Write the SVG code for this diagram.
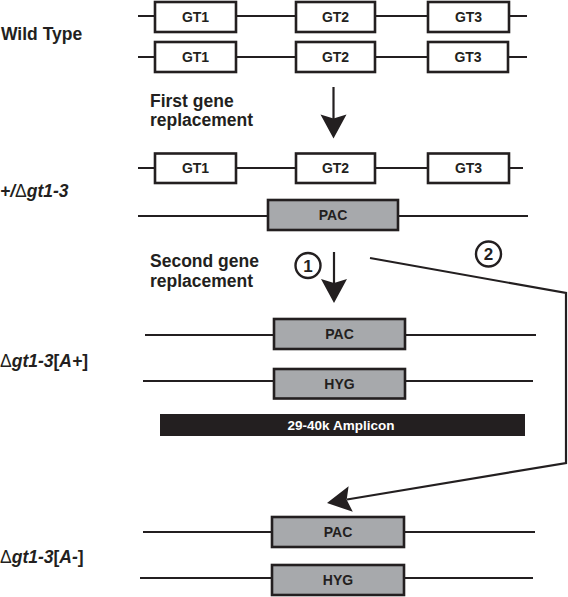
<svg xmlns="http://www.w3.org/2000/svg" width="568" height="597" viewBox="0 0 568 597">
<style>
.bg{fill:#fff}
.ln{stroke:#231f20;stroke-width:2.2;fill:none}
.wb{fill:#fff;stroke:#231f20;stroke-width:2.6}
.gb{fill:#a7a9ac;stroke:#231f20;stroke-width:2.6}
.bt{font-family:"Liberation Sans",Arial,sans-serif;font-weight:bold;font-size:14px;fill:#231f20;text-anchor:middle}
.lb{font-family:"Liberation Sans",Arial,sans-serif;font-weight:bold;font-size:17.5px;fill:#231f20}
.it{font-style:italic}
.dl{font-weight:normal;font-style:normal}
.ah{fill:#231f20}
.cc{fill:none;stroke:#231f20;stroke-width:2.4}
.ct{font-family:"Liberation Sans",Arial,sans-serif;font-weight:bold;font-size:17px;fill:#231f20;text-anchor:middle}
</style>
<rect class="bg" x="0" y="0" width="568" height="597"/>

<g id="labels">
<text class="lb" x="1" y="40">Wild Type</text>
<text class="lb" x="150" y="107">First gene</text>
<text class="lb" x="150" y="126">replacement</text>
<text class="lb it" x="0" y="197">+/<tspan class="dl">Δ</tspan>gt1-3</text>
<text class="lb" x="150" y="267">Second gene</text>
<text class="lb" x="150" y="287">replacement</text>
<text class="lb" x="0" y="367"><tspan class="dl">Δ</tspan><tspan class="it">gt1-3</tspan>[<tspan class="it">A+</tspan>]</text>
<text class="lb" x="0" y="563"><tspan class="dl">Δ</tspan><tspan class="it">gt1-3</tspan>[<tspan class="it">A-</tspan>]</text>
</g>

<g id="connectors">
<line class="ln" x1="333.5" y1="87" x2="333.5" y2="119"/>
<polygon class="ah" points="320.5,114.5 333.5,118.5 346.5,114.5 333.5,138.5"/>
<line class="ln" x1="334" y1="252" x2="334" y2="284"/>
<polygon class="ah" points="321,279 334,283 347,279 334,303"/>
<polyline class="ln" stroke-width="2.8" points="370,258 566,293 566,463 347,499.5"/>
<polygon class="ah" points="327,503 348.6,486.2 346.7,499.7 352.8,511.8"/>
</g>

<g id="markers">
<circle class="cc" cx="308" cy="265.5" r="12.5"/>
<text class="ct" x="308" y="271.5">1</text>
<circle class="cc" cx="488.5" cy="254" r="12.5"/>
<text class="ct" x="488.5" y="260">2</text>
</g>

<g id="wt1">
<line class="ln" x1="138" y1="16" x2="527" y2="16"/>
<g id="wt1-gt1"><rect class="wb" x="155" y="2" width="81" height="30"/><text class="bt" x="195.5" y="22">GT1</text></g>
<g id="wt1-gt2"><rect class="wb" x="296" y="2" width="79" height="30"/><text class="bt" x="335.5" y="22">GT2</text></g>
<g id="wt1-gt3"><rect class="wb" x="428" y="2" width="81" height="30"/><text class="bt" x="468.5" y="22">GT3</text></g>
</g>

<g id="wt2">
<line class="ln" x1="138" y1="57" x2="527" y2="57"/>
<g id="wt2-gt1"><rect class="wb" x="155" y="42" width="81" height="30"/><text class="bt" x="195.5" y="62">GT1</text></g>
<g id="wt2-gt2"><rect class="wb" x="296" y="42" width="79" height="30"/><text class="bt" x="335.5" y="62">GT2</text></g>
<g id="wt2-gt3"><rect class="wb" x="428" y="42" width="80" height="30"/><text class="bt" x="468" y="62">GT3</text></g>
</g>

<g id="het1">
<line class="ln" x1="138" y1="168" x2="523" y2="168"/>
<g id="het1-gt1"><rect class="wb" x="155" y="153.5" width="81" height="29.5"/><text class="bt" x="195.5" y="173">GT1</text></g>
<g id="het1-gt2"><rect class="wb" x="296" y="153.5" width="79" height="29.5"/><text class="bt" x="335.5" y="173">GT2</text></g>
<g id="het1-gt3"><rect class="wb" x="428" y="153.5" width="81" height="29.5"/><text class="bt" x="468.5" y="173">GT3</text></g>
</g>

<g id="het2">
<line class="ln" x1="138" y1="216" x2="528" y2="216"/>
<g id="het2-pac"><rect class="gb" x="268" y="200" width="130" height="30"/><text class="bt" x="333" y="220">PAC</text></g>
</g>

<g id="ap1">
<line class="ln" x1="145" y1="335" x2="536" y2="335"/>
<g id="ap1-pac"><rect class="gb" x="274" y="319" width="131" height="30"/><text class="bt" x="339.5" y="339">PAC</text></g>
</g>

<g id="ap2">
<line class="ln" x1="143" y1="381" x2="533" y2="381"/>
<g id="ap2-hyg"><rect class="gb" x="274" y="369" width="131" height="29.5"/><text class="bt" x="339.5" y="388.5">HYG</text></g>
</g>

<g id="amplicon">
<rect x="160" y="414" width="365" height="22" fill="#231f20"/>
<text class="bt" x="341" y="429.5" style="fill:#fff;font-size:13.5px">29-40k Amplicon</text>
</g>

<g id="am1">
<line class="ln" x1="143" y1="532" x2="535" y2="532"/>
<g id="am1-pac"><rect class="gb" x="272" y="517" width="132" height="30"/><text class="bt" x="338" y="536.5">PAC</text></g>
</g>

<g id="am2">
<line class="ln" x1="140" y1="578" x2="533" y2="578"/>
<g id="am2-hyg"><rect class="gb" x="272" y="565" width="132" height="30"/><text class="bt" x="338" y="584.5">HYG</text></g>
</g>
</svg>
